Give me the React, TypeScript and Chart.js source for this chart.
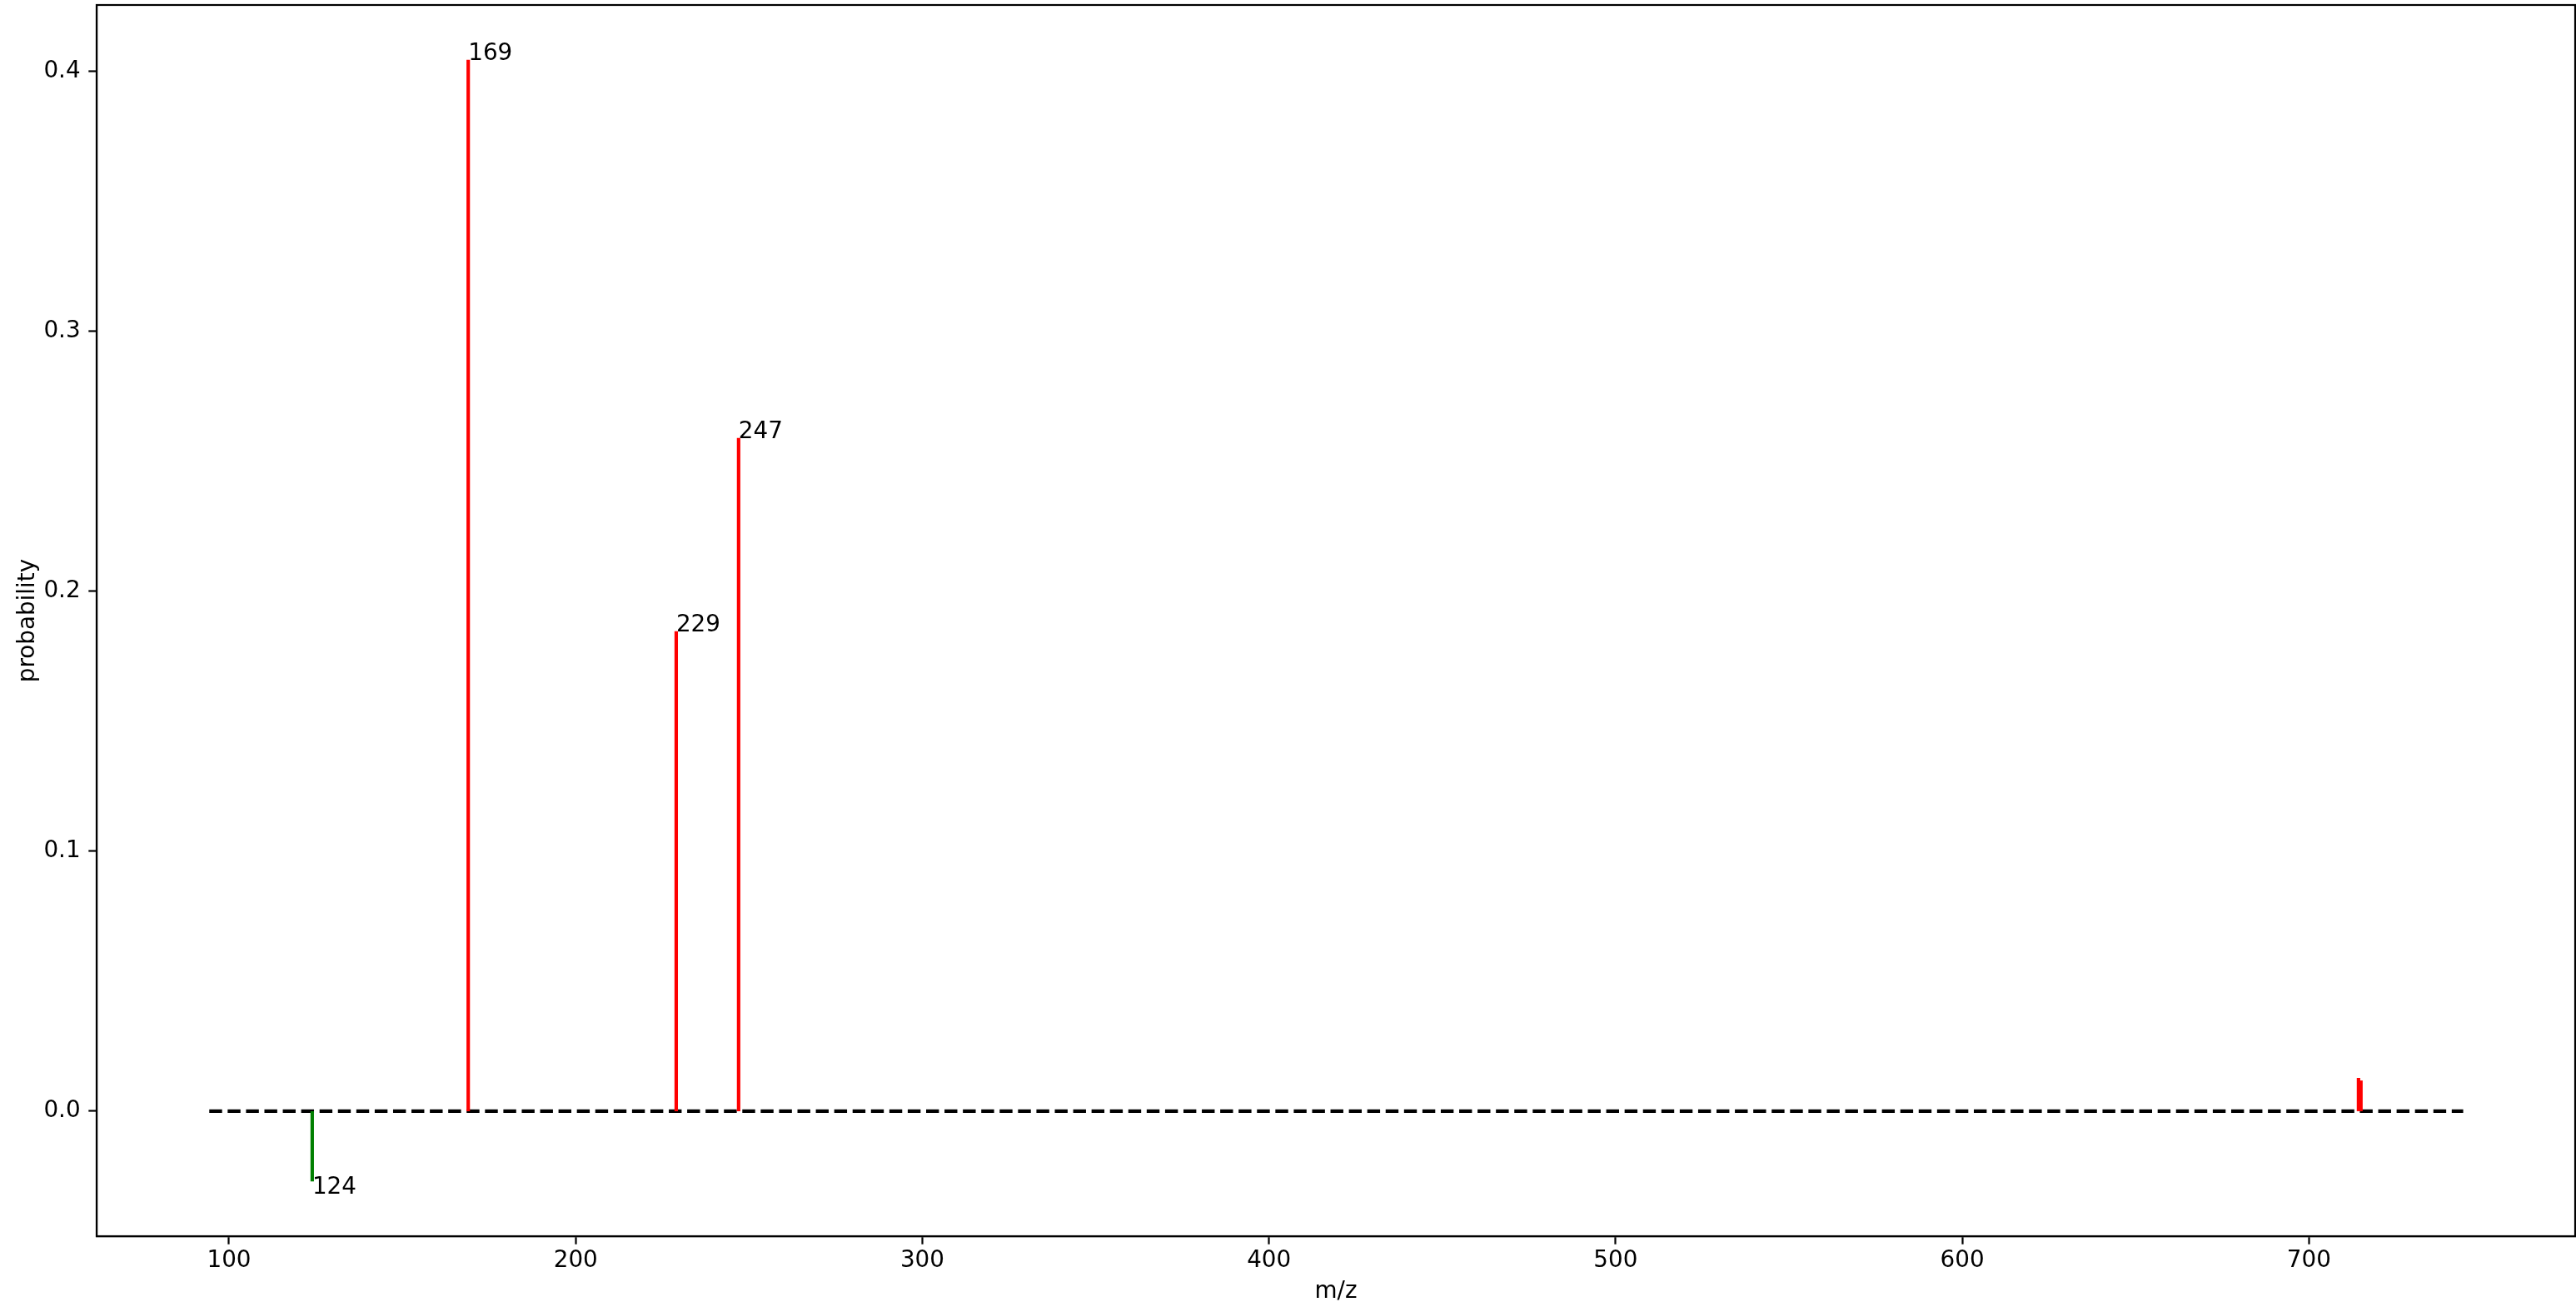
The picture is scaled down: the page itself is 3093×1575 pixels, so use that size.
import React, { useEffect, useRef } from 'react';
import { Chart, registerables } from 'chart.js';

Chart.register(...registerables);

// ---- data ----
const peakMz = [124, 169, 229, 247, 714.3, 715.0];
const peakProb = [-0.027, 0.4045, 0.1847, 0.259, 0.0128, 0.0118];
const peakLabels = ['124', '169', '229', '247', '', ''];
const baselineRange = [94.3, 744.5];
const xTicks = [100, 200, 300, 400, 500, 600, 700];
const yTicks = [0.0, 0.1, 0.2, 0.3, 0.4];
const xLimits = [61.8, 776.8];
const yLimits = [-0.0481, 0.4256];

const FONT = 'DejaVu Sans';
const FS = 27.8;

export default function App() {
  const ref = useRef<HTMLCanvasElement>(null);

  useEffect(() => {
    const canvas = ref.current;
    if (!canvas) return;

    const datasets: any[] = [];
    datasets.push({
      label: 'baseline',
      data: baselineRange.map((x) => ({ x, y: 0 })),
      borderColor: '#000000',
      borderWidth: 4.17,
      borderDash: [15.4, 6.67],
      borderCapStyle: 'butt',
      pointRadius: 0,
      showLine: true,
      order: 2,
    });
    peakMz.forEach((mz, i) => {
      datasets.push({
        label: 'peak' + i,
        data: [
          { x: mz, y: 0 },
          { x: mz, y: peakProb[i] },
        ],
        borderColor: peakProb[i] < 0 ? '#008000' : '#ff0000',
        borderWidth: 4.17,
        borderCapStyle: 'butt',
        pointRadius: 0,
        showLine: true,
        order: 1,
      });
    });

    const framePlugin = {
      id: 'frame',
      afterDraw(chart: any) {
        const { ctx, chartArea } = chart;
        ctx.save();
        ctx.strokeStyle = '#000';
        ctx.lineWidth = 2.2;
        ctx.strokeRect(chartArea.left, chartArea.top, chartArea.right - chartArea.left, chartArea.bottom - chartArea.top);
        ctx.restore();
      },
    };

    const labelPlugin = {
      id: 'peakLabels',
      afterDatasetsDraw(chart: any) {
        const { ctx } = chart;
        const xs = chart.scales.x;
        const ys = chart.scales.y;
        ctx.save();
        ctx.fillStyle = '#000';
        ctx.font = `${FS}px "${FONT}"`;
        ctx.textAlign = 'left';
        ctx.textBaseline = 'alphabetic';
        peakMz.forEach((mz, i) => {
          const t = peakLabels[i];
          if (!t) return;
          const px = xs.getPixelForValue(mz);
          const py = ys.getPixelForValue(peakProb[i]);
          ctx.fillText(t, px, peakProb[i] < 0 ? py + 15 : py);
        });
        ctx.restore();
      },
    };

    const chart = new Chart(canvas, {
      type: 'scatter',
      data: { datasets },
      plugins: [framePlugin, labelPlugin],
      options: {
        animation: false,
        responsive: false,
        devicePixelRatio: 1,
        layout: { padding: { top: 6, right: 1, left: 0, bottom: 0 } },
        plugins: {
          legend: { display: false },
          tooltip: { enabled: false },
        },
        elements: { line: { tension: 0 } },
        scales: {
          x: {
            type: 'linear',
            position: 'bottom',
            min: xLimits[0],
            max: xLimits[1],
            afterBuildTicks: (s: any) => {
              s.ticks = xTicks.map((v) => ({ value: v }));
            },
            afterFit: (s: any) => {
              s.height = 91;
              s.paddingLeft = 0;
              s.paddingRight = 0;
              s.paddingTop = 0;
              s.paddingBottom = 0;
            },
            ticks: {
              color: '#000',
              font: { family: FONT, size: FS, lineHeight: 1.2 },
              padding: 3.6,
              maxRotation: 0,
              autoSkip: false,
              callback: (v: any) => String(v),
            },
            grid: {
              display: true,
              drawOnChartArea: false,
              drawTicks: true,
              tickLength: 9.7,
              tickWidth: 2.2,
              tickColor: '#000',
            },
            border: { display: true, color: '#000', width: 2.2 },
            title: {
              display: true,
              text: 'm/z',
              color: '#000',
              font: { family: FONT, size: FS, lineHeight: 1 },
              padding: { top: 0, bottom: 10 },
            },
          },
          y: {
            type: 'linear',
            position: 'left',
            min: yLimits[0],
            max: yLimits[1],
            afterBuildTicks: (s: any) => {
              s.ticks = yTicks.map((v) => ({ value: v }));
            },
            afterFit: (s: any) => {
              s.width = 116;
              s.paddingLeft = 0;
              s.paddingRight = 0;
              s.paddingTop = 0;
              s.paddingBottom = 0;
            },
            ticks: {
              color: '#000',
              font: { family: FONT, size: FS, lineHeight: 1.2 },
              padding: 9.7,
              autoSkip: false,
              callback: (v: any) => Number(v).toFixed(1),
            },
            grid: {
              display: true,
              drawOnChartArea: false,
              drawTicks: true,
              tickLength: 9.7,
              tickWidth: 2.2,
              tickColor: '#000',
            },
            border: { display: true, color: '#000', width: 2.2 },
            title: {
              display: true,
              text: 'probability',
              color: '#000',
              font: { family: FONT, size: FS, lineHeight: 1 },
              padding: { top: 19.4, bottom: 0 },
            },
          },
        },
      },
    } as any);

    return () => {
      chart.destroy();
    };
  }, []);

  return (
    <div style={{ position: 'fixed', left: 0, top: 0, width: 3093, height: 1575, background: '#ffffff' }}>
      <canvas ref={ref} width={3093} height={1575} style={{ display: 'block', width: 3093, height: 1575 }} />
    </div>
  );
}
